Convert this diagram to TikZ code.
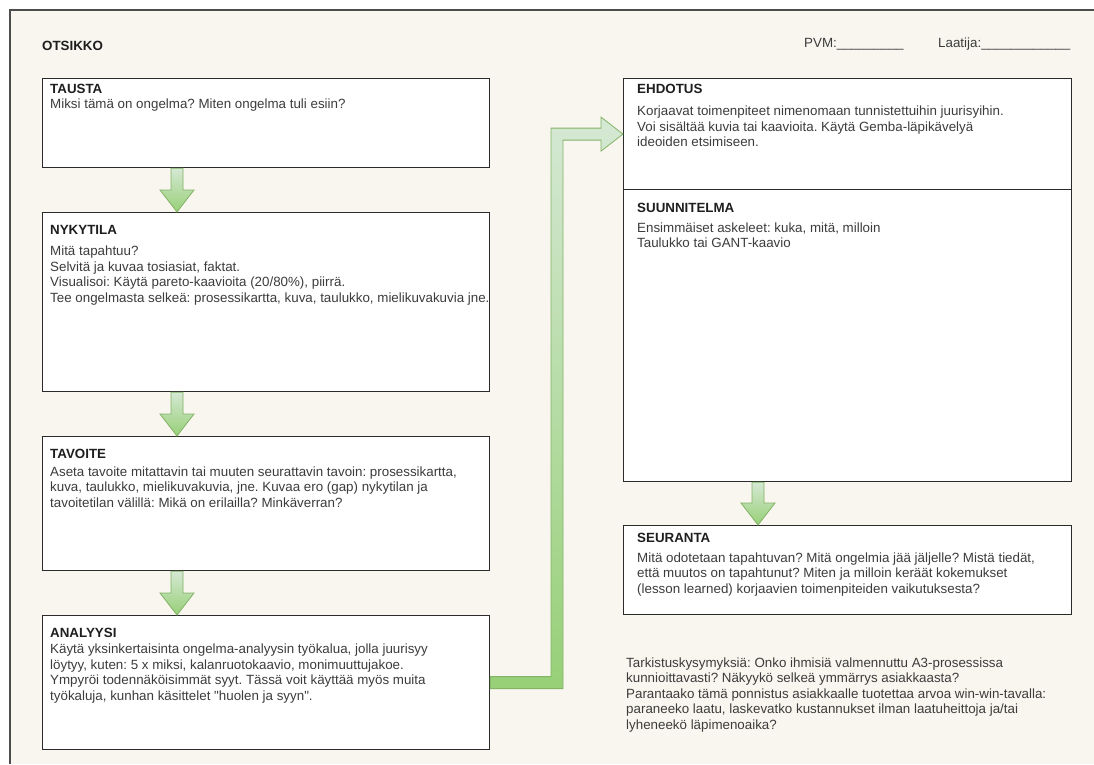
\documentclass[tikz,border=0pt]{standalone}
\usepackage{fontspec}
\setmainfont{Liberation Sans}
\usepackage{xcolor}
\usetikzlibrary{calc}
\frenchspacing
\definecolor{sheet}{HTML}{F8F6EE}
\definecolor{frameline}{HTML}{4D4D4D}
\definecolor{boxline}{HTML}{2B2B2B}
\definecolor{bodytext}{HTML}{3C3C3C}
\definecolor{titletext}{HTML}{1E1E1E}
\definecolor{arrowlight}{HTML}{D5E8D4}
\definecolor{arrowdark}{HTML}{97D077}
\definecolor{arrowline}{HTML}{82B366}
\newcommand\bodyfont{\fontsize{13.35}{15.6}\selectfont}
\newcommand\boxtitle[1]{\textbf{\color{titletext}#1}}
\tikzset{
	sheetframe/.style={draw=frameline,line width=1.3pt},%
	box/.style={draw=boxline,fill=white,line width=1.2pt,inner sep=0pt,anchor=north west},%
	boxtext/.style={anchor=north west,inner sep=0pt,align=left,text=bodytext,font=\bodyfont},%
	headtext/.style={anchor=base west,inner sep=0pt,text=titletext,font=\bodyfont},%
	flowarrow/.style={draw=arrowline,line width=0.8pt,top color=arrowlight,bottom color=arrowdark},%
}
\def\arrowoffset{135}
\def\shafthalf{6}
\def\headhalf{17}
\def\headlength{22}
\newcommand\blockarrow[2]{%
	\draw[flowarrow] ($(#1.south west)+(\arrowoffset-\shafthalf,0)$)
		-- ($(#2.north west)+(\arrowoffset-\shafthalf,-\headlength)$)
		-- ($(#2.north west)+(\arrowoffset-\headhalf,-\headlength)$)
		-- ($(#2.north west)+(\arrowoffset,0)$)
		-- ($(#2.north west)+(\arrowoffset+\headhalf,-\headlength)$)
		-- ($(#2.north west)+(\arrowoffset+\shafthalf,-\headlength)$)
		-- ($(#1.south west)+(\arrowoffset+\shafthalf,0)$) -- cycle;%
}

\begin{document}
\begin{tikzpicture}[x=1pt,y=-1pt]
	\useasboundingbox (0,0) rectangle (1094,764);
	\fill[white] (0,0) rectangle (1094,764);
	\fill[sheet] (10,10) rectangle (1094,764);
	\draw[sheetframe] (10,764) -- (10,10) -- (1094,10);

	\node[headtext] (otsikko) at (42,50) {\textbf{OTSIKKO}};
	\node[headtext,text=bodytext] (pvm) at (804,47) {PVM:\_\_\_\_\_\_\_\_\_};
	\node[headtext,text=bodytext] (laatija) at (938,47) {Laatija:\_\_\_\_\_\_\_\_\_\_\_\_};

	\node[box,minimum width=447,minimum height=89] (tausta) at (42,78) {};
	\node[box,minimum width=447,minimum height=179] (nykytila) at (42,212) {};
	\node[box,minimum width=447,minimum height=134] (tavoite) at (42,436) {};
	\node[box,minimum width=447,minimum height=134] (analyysi) at (42,615) {};
	\node[box,minimum width=448,minimum height=111] (ehdotus) at (623,78) {};
	\node[box,minimum width=448,minimum height=292] (suunnitelma) at (623,189) {};
	\node[box,minimum width=448,minimum height=89] (seuranta) at (623,525) {};

	\node[boxtext] (taustatext) at ($(tausta.north west)+(8,4)$) {\strut\boxtitle{TAUSTA}\\
		Miksi tämä on ongelma? Miten ongelma tuli esiin?};
	\node[boxtext] (nykytilatext) at ($(nykytila.north west)+(8,11)$) {\strut\boxtitle{NYKYTILA}\\[6pt]
		Mitä tapahtuu?\\
		Selvitä ja kuvaa tosiasiat, faktat.\\
		Visualisoi: Käytä pareto-kaavioita (20/80\%), piirrä.\\
		Tee ongelmasta selkeä: prosessikartta, kuva, taulukko, mielikuvakuvia jne.};
	\node[boxtext] (tavoitetext) at ($(tavoite.north west)+(8,11)$) {\strut\boxtitle{TAVOITE}\\[2.5pt]
		Aseta tavoite mitattavin tai muuten seurattavin tavoin: prosessikartta,\\
		kuva, taulukko, mielikuvakuvia, jne. Kuvaa ero (gap) nykytilan ja\\
		tavoitetilan välillä: Mikä on erilailla? Minkäverran?};
	\node[boxtext] (analyysitext) at ($(analyysi.north west)+(8,11)$) {\strut\boxtitle{ANALYYSI}\\[1pt]
		Käytä yksinkertaisinta ongelma-analyysin työkalua, jolla juurisyy\\
		löytyy, kuten: 5 x miksi, kalanruotokaavio, monimuuttujakoe.\\
		Ympyröi todennäköisimmät syyt. Tässä voit käyttää myös muita\\
		työkaluja, kunhan käsittelet \textquotedbl huolen ja syyn\textquotedbl.};
	\node[boxtext] (ehdotustext) at ($(ehdotus.north west)+(14,4)$) {\strut\boxtitle{EHDOTUS}\\[7pt]
		Korjaavat toimenpiteet nimenomaan tunnistettuihin juurisyihin.\\
		Voi sisältää kuvia tai kaavioita. Käytä Gemba-läpikävelyä\\
		ideoiden etsimiseen.};
	\node[boxtext] (suunnitelmatext) at ($(suunnitelma.north west)+(14,12)$) {\strut\boxtitle{SUUNNITELMA}\\[4.5pt]
		Ensimmäiset askeleet: kuka, mitä, milloin\\
		Taulukko tai GANT-kaavio};
	\node[boxtext] (seurantatext) at ($(seuranta.north west)+(14,6)$) {\strut\boxtitle{SEURANTA}\\[4.5pt]
		Mitä odotetaan tapahtuvan? Mitä ongelmia jää jäljelle? Mistä tiedät,\\
		että muutos on tapahtunut? Miten ja milloin keräät kokemukset\\
		(lesson learned) korjaavien toimenpiteiden vaikutuksesta?};
	\node[boxtext] (tarkistus) at (626,656) {\strut Tarkistuskysymyksiä: Onko ihmisiä valmennuttu A3-prosessissa\\
		kunnioittavasti? Näkyykö selkeä ymmärrys asiakkaasta?\\
		Parantaako tämä ponnistus asiakkaalle tuotettaa arvoa win-win-tavalla:\\
		paraneeko laatu, laskevatko kustannukset ilman laatuheittoja ja/tai\\
		lyheneekö läpimenoaika?};

	\blockarrow{tausta}{nykytila}
	\blockarrow{nykytila}{tavoite}
	\blockarrow{tavoite}{analyysi}
	\blockarrow{suunnitelma}{seuranta}

	\coordinate (riser) at (557,0);
	\draw[flowarrow] ($(analyysi.east)+(0,\shafthalf)$)
		-- ($(analyysi.east -| riser)+(\shafthalf,\shafthalf)$)
		-- ($(ehdotus.west -| riser)+(\shafthalf,\shafthalf)$)
		-- ($(ehdotus.west)+(-\headlength,\shafthalf)$)
		-- ($(ehdotus.west)+(-\headlength,\headhalf)$)
		-- (ehdotus.west)
		-- ($(ehdotus.west)+(-\headlength,-\headhalf)$)
		-- ($(ehdotus.west)+(-\headlength,-\shafthalf)$)
		-- ($(ehdotus.west -| riser)+(-\shafthalf,-\shafthalf)$)
		-- ($(analyysi.east -| riser)+(-\shafthalf,-\shafthalf)$)
		-- ($(analyysi.east)+(0,-\shafthalf)$) -- cycle;
\end{tikzpicture}
\end{document}
